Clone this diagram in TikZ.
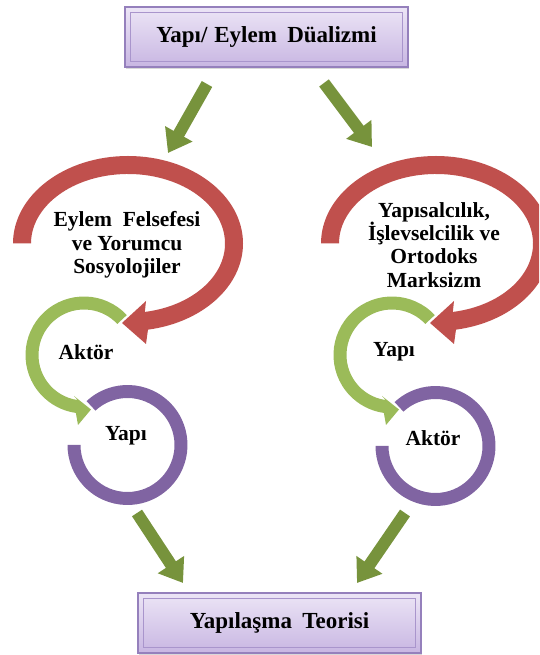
\documentclass[tikz,border=0pt]{standalone}
\usepackage{fontspec}
\setmainfont{Liberation Serif}
\usetikzlibrary{arrows.meta,shadows}
\definecolor{redc}{HTML}{C0504D}
\definecolor{greenc}{HTML}{9BBB59}
\definecolor{purplec}{HTML}{8064A2}
\definecolor{arrowc}{HTML}{77933C}
\definecolor{boxtop}{HTML}{ECE5F6}
\definecolor{boxbot}{HTML}{C8B6E2}
\definecolor{boxline}{HTML}{9580BC}
\definecolor{bevel}{HTML}{A995CC}
\tikzset{
  box/.style={rectangle, minimum width=283pt, minimum height=60pt, inner sep=0pt,
    top color=boxtop, bottom color=boxbot, draw=boxline, line width=1.2pt,
    drop shadow={shadow xshift=1pt, shadow yshift=-2.5pt, opacity=.3},
    font=\fontsize{23}{26}\selectfont\bfseries},
  bevelline/.style={draw=bevel, line width=0.8pt},
  garrow/.style={draw=arrowc, line width=12pt, -{Triangle[length=22pt,width=30pt]}},
  lbl/.style={inner sep=0pt, align=center, font=\fontsize{21.5}{23.3}\selectfont\bfseries},
}
\begin{document}
\begin{tikzpicture}[x=1pt,y=1pt]
\useasboundingbox (0,0) rectangle (539,655);
\begin{scope}
\clip (0,0) rectangle (539,655);
% ---------- left group ----------
\begin{scope}[shift={(128,411.5)}]
  \fill[redc] (180:115 and 87.5) arc[start angle=180, end angle=-80, x radius=115, y radius=87.5]
    -- (18,-100.5) -- (-6,-79.5) -- (18,-57.5)
    -- (-80:97 and 69.5) arc[start angle=-80, end angle=180, x radius=97, y radius=69.5] -- cycle;
\end{scope}
\begin{scope}[shift={(84,300)}]
  \fill[greenc] (43:58.5) arc[start angle=43, end angle=262, radius=58.5]
    -- (-6,-70) -- (7,-54.5) -- (-10,-41)
    -- (262:45.5) arc[start angle=262, end angle=43, radius=45.5] -- cycle;
\end{scope}
\begin{scope}[shift={(127.5,210)}]
  \fill[purplec] (133:60) arc[start angle=133, end angle=-180, radius=60]
    -- (180:47) arc[start angle=-180, end angle=133, radius=47] -- cycle;
\end{scope}
% ---------- right group ----------
\begin{scope}[shift={(436,411.5)}]
  \fill[redc] (180:115 and 87.5) arc[start angle=180, end angle=-80, x radius=115, y radius=87.5]
    -- (18,-100.5) -- (-6,-79.5) -- (18,-57.5)
    -- (-80:97 and 69.5) arc[start angle=-80, end angle=180, x radius=97, y radius=69.5] -- cycle;
\end{scope}
\begin{scope}[shift={(392,300)}]
  \fill[greenc] (43:58.5) arc[start angle=43, end angle=262, radius=58.5]
    -- (-6,-70) -- (7,-54.5) -- (-10,-41)
    -- (262:45.5) arc[start angle=262, end angle=43, radius=45.5] -- cycle;
\end{scope}
\begin{scope}[shift={(435.5,209)}]
  \fill[purplec] (133:60) arc[start angle=133, end angle=-180, radius=60]
    -- (180:47) arc[start angle=-180, end angle=133, radius=47] -- cycle;
\end{scope}
\end{scope}
% ---------- labels ----------
\node[lbl] (lt) at (127,410) {Eylem\hspace{0.5em}Felsefesi\\ve Yorumcu\\Sosyolojiler};
\node[lbl] (rt) at (434,410) {Yapısalcılık,\\İşlevselcilik ve\\Ortodoks\\Marksizm};
\node[lbl] (la) at (86,303) {Aktör};
\node[lbl] (ly) at (126,219) {Yapı};
\node[lbl] (ry) at (394,303) {Yapı};
\node[lbl] (ra) at (433,217) {Aktör};
% ---------- boxes ----------
\node[box] (top) at (266.5,618) {Yapı/\hspace{0.3em}Eylem\hspace{0.45em}Düalizmi};
\draw[bevelline] ([shift={(6,-6)}]top.north west) rectangle ([shift={(-6,6)}]top.south east);
\node[box] (bot) at (279.5,32) {Yapılaşma\hspace{0.45em}Teorisi};
\draw[bevelline] ([shift={(6,-6)}]bot.north west) rectangle ([shift={(-6,6)}]bot.south east);
% ---------- arrows ----------
\coordinate (a1s) at (207,571); \coordinate (a1e) at (168,502);
\coordinate (a2s) at (324,572); \coordinate (a2e) at (372,508);
\coordinate (a3s) at (137,142); \coordinate (a3e) at (183,72);
\coordinate (a4s) at (405,142); \coordinate (a4e) at (357,72);
\draw[garrow] (a1s) -- (a1e);
\draw[garrow] (a2s) -- (a2e);
\draw[garrow] (a3s) -- (a3e);
\draw[garrow] (a4s) -- (a4e);
\end{tikzpicture}
\end{document}
